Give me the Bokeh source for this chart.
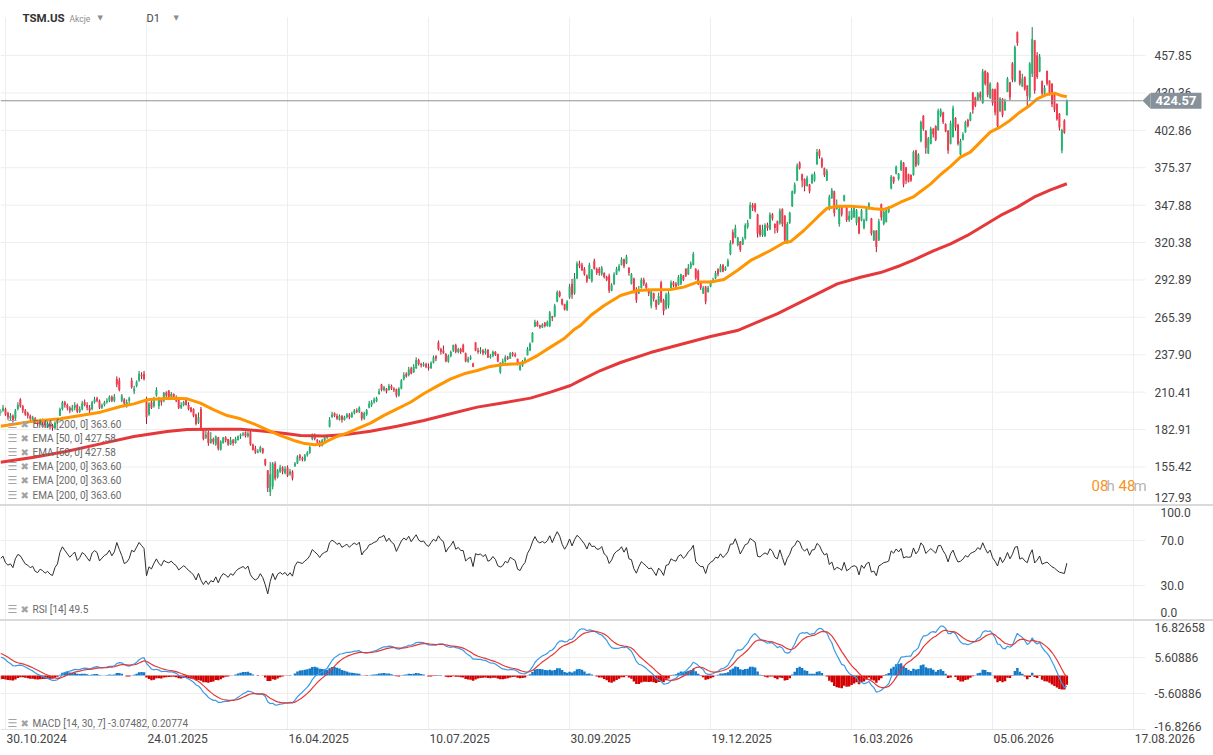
import numpy as np
from bokeh.plotting import figure
from bokeh.layouts import column
from bokeh.models import (Range1d, FixedTicker, Label, Div, NumeralTickFormatter,
                          BoxAnnotation, PolyAnnotation)
from bokeh.embed import file_html
from bokeh.resources import INLINE

# ---------------- data ----------------
FIRST_BAR = -2  # bar index of the first candle; bar 0 = 30.10.2024

OPEN = [
    195, 197, 198, 195, 191, 193, 191, 198, 205, 200,
    197, 195, 193, 190, 191, 189, 187, 190, 188, 185,
    187, 186, 184, 188, 193, 198, 203, 201, 199, 197,
    199, 201, 196, 198, 203, 201, 199, 198, 203, 206,
    204, 199, 201, 203, 204, 207, 204, 220, 219, 204,
    205, 201, 204, 219, 211, 215, 219, 223, 224, 205,
    194, 203, 200, 208, 200, 205, 204, 210, 211.5, 207,
    209, 206, 205, 199, 201, 205, 201, 199, 198, 194,
    188, 198, 183, 177, 181, 173, 176, 172, 177, 168,
    173, 177, 176, 172, 175, 173, 175, 178, 179, 181,
    178, 181, 172, 169, 166, 167, 169, 161, 153, 137,
    141, 158, 148, 152, 155, 151, 155, 150, 152, 156,
    158, 164, 162, 160, 164, 166, 176, 179, 175, 174,
    171, 175, 177, 185, 192, 195, 193, 190, 193, 190,
    192, 194, 192, 195, 197, 196, 195.5, 191, 194, 199,
    201, 203, 204, 209, 216, 212, 213, 212, 215, 213,
    212.5, 208, 213, 220, 224, 223, 228, 225, 228, 234,
    231, 230, 231, 229, 228, 232, 237, 247, 242, 241,
    238.6, 233, 237, 241, 245, 240, 242, 245, 239, 233,
    235, 231.5, 247, 241, 240, 241, 239, 241.5, 236, 237,
    240, 238.5, 225, 232, 233, 236, 235, 239, 238, 234.9,
    226.5, 230, 233, 237.5, 241, 247, 258.5, 262, 259.5, 258,
    261.5, 259, 259, 266, 266, 277, 284, 279, 275.3, 271,
    280, 290, 283, 294, 305, 304, 301, 296, 294, 292,
    307, 301, 301, 297, 298, 295, 296, 285, 290, 297,
    300, 304, 308, 305, 302, 290, 294, 286, 283, 287,
    293, 290, 286, 274, 283, 278, 275, 291, 278, 272,
    274, 287, 291, 290, 289, 290, 296, 301, 297, 302,
    304, 301, 299.5, 291, 283, 288, 284, 288, 291.5, 294,
    300.5, 299, 304, 300, 303, 312, 328, 324, 318.5, 321,
    319, 323.5, 332, 338, 348, 348.5, 341, 333, 326, 325,
    333.5, 330, 341, 334, 336, 334.5, 345, 340, 320.5, 335,
    347, 357, 366, 379, 370.5, 367, 362, 363, 364, 366,
    378, 388, 382, 375, 366, 345, 353, 358, 345, 334,
    347, 351, 346, 337, 338, 339, 335, 339, 336.5, 331,
    336.5, 345, 338, 322, 329, 322, 348.5, 334, 335.5, 343,
    360, 368.5, 371, 367, 373.5, 379, 375.5, 370.5, 370, 370,
    388, 378, 395, 413.5, 402.5, 386, 393, 404, 406, 403,
    414, 416, 407.5, 402.5, 393, 398, 412, 407, 385, 396,
    401.5, 410.5, 410, 430.5, 427, 425, 430, 423, 446.5, 445,
    426.5, 433, 433, 437.5, 417, 426, 417.5, 431, 438, 452,
    439, 475, 446.5, 435, 442, 435.8, 427, 444.5, 469, 458,
    446, 439, 430, 446.5, 439.5, 437, 431, 422.3, 415, 388,
    410, 414,
]

HIGH = [
    198, 201, 199, 196, 195, 194, 198, 203, 206, 201,
    198, 196, 194, 193, 192, 190, 191, 191, 189, 189,
    188, 187, 189, 191, 199, 204, 204, 202, 200, 201,
    203, 202, 200, 204, 205, 203, 201, 204, 207, 207,
    205, 202, 204, 206, 208, 208, 209, 222, 221, 209,
    206, 205, 207, 221, 215, 219, 226, 225, 226, 207,
    203, 204.5, 207, 214, 207, 205.5, 210.5, 211, 212, 210.5,
    209.5, 208, 205.5, 203, 204, 205.5, 203, 199.5, 198.5, 194.5,
    195.5, 199.5, 183.5, 182, 182, 181, 177, 178.5, 177.5, 175,
    177.5, 178, 176, 177.5, 176, 177.5, 178.5, 180, 181, 181.5,
    181.5, 182, 172.5, 171, 168.5, 171, 169.5, 161.5, 153, 159,
    159, 159.5, 154, 157, 156, 156, 156.5, 154, 153, 159,
    164, 165, 163, 165, 167, 171, 180, 180, 176, 175,
    176, 178.5, 179, 192, 196, 195.5, 194.5, 194, 193.5, 193,
    195, 195, 196, 198, 198.5, 200, 196, 196, 198, 204,
    204.5, 206.5, 207, 213, 216.5, 215, 213.5, 216.5, 216, 214,
    213, 214, 220, 225, 225, 229, 229, 231, 236, 235,
    232, 232.5, 232, 231.5, 233, 237.3, 237.5, 248.4, 243, 244.7,
    239, 238, 241, 245.4, 246, 243, 243, 246, 239.5, 236.5,
    237.5, 232, 247, 243, 243.5, 242, 242.5, 242, 238.5, 241,
    240.5, 238.6, 232.4, 235, 237.5, 237, 239.8, 240, 239.5, 235,
    231.2, 234, 236, 243.5, 247, 254.5, 263.6, 263, 260, 261,
    262, 263, 270, 266.5, 275.3, 285.1, 285, 279, 275.3, 278,
    290, 293.7, 298, 306.5, 307, 305.5, 302.3, 297, 305.5, 301,
    308.5, 302, 302.3, 303, 298.5, 296, 297.5, 290.5, 298.5, 302.5,
    304.5, 309.5, 308.5, 311.4, 302, 298, 294.5, 287.5, 288.5, 294.5,
    294.5, 291, 286.5, 285.5, 283.5, 278.5, 283.5, 292.3, 279, 283.5,
    284.5, 292.5, 292, 291.5, 296.5, 297.5, 296.5, 301.5, 304.5, 306.5,
    313.5, 301.5, 300.5, 292, 288.5, 288.5, 288.5, 292.5, 294.5, 299.5,
    301.5, 304.5, 304.5, 303, 308.5, 322, 330, 333.5, 324.5, 321.5,
    324.5, 334.5, 337, 350, 349.5, 349.5, 341.5, 333.5, 333.5, 334.5,
    335, 342.5, 342, 334.5, 336.5, 345.5, 345.5, 340.5, 335.5, 343,
    358.6, 364.5, 378.5, 380, 371, 367.5, 369.5, 363.5, 371, 372.5,
    389.2, 389, 383, 375.5, 374.5, 355.5, 360.5, 358.5, 352, 347,
    347.5, 355.5, 347, 343.5, 346, 346.4, 345, 339.5, 345, 338,
    346.4, 350, 338.5, 329.5, 329.5, 337.8, 349, 344, 344.5, 347,
    370, 369, 377, 371.5, 381, 379.5, 376, 371, 370.5, 388,
    388.5, 386, 410, 414, 403, 398, 405.5, 404.5, 406.5, 418.7,
    419, 416.5, 408, 403, 410, 421, 412.5, 407.6, 396.6, 401.5,
    410, 411.3, 416.2, 431, 427.5, 431, 431.5, 448, 447, 445.6,
    438.2, 433.5, 433.5, 438.2, 427.2, 426.5, 426, 442, 438.5, 453,
    465.2, 475.5, 447, 444.4, 442.5, 436, 453, 478.7, 469, 460.3,
    459, 439.5, 436, 446.8, 439.5, 437.5, 431, 422.5, 415.5, 404,
    411, 425.5,
]

LOW = [
    193, 196, 193, 190, 190, 188, 190, 197, 199, 195,
    193, 191, 189, 189, 187, 185, 186, 186, 184, 184,
    183, 182, 183, 187, 193, 197, 199, 197, 195, 196,
    197, 195, 195, 197, 200, 197, 195, 197, 202, 203,
    198, 198, 200, 202, 203, 203, 203, 214, 211, 203,
    200, 199, 202, 213, 209, 214, 218, 220, 219, 187,
    193, 198, 199, 207, 198, 200.5, 203, 206, 206.5, 206,
    205, 203, 198, 198, 200, 200.5, 197, 195.5, 192, 186,
    187, 182, 175, 176, 171, 172.5, 172, 171, 167.5, 167.5,
    172.5, 173.5, 171, 171.5, 171, 172.5, 175, 176, 178, 177,
    177, 171, 167.5, 165, 165.5, 166, 165, 156, 137, 134,
    139, 145.5, 147, 151, 150, 150, 148, 149, 145.5, 155.5,
    157.5, 160, 159.5, 159.5, 163, 165, 175, 175, 172, 170,
    170.5, 174, 176, 184.5, 191.5, 192, 190, 189.5, 188, 189.5,
    191, 190.5, 191.5, 194, 195, 195, 189.5, 190, 193, 198.5,
    199.5, 202, 203, 208.5, 211, 211, 209.5, 211.5, 212, 210.5,
    206.5, 207, 212.5, 219, 221, 222, 223.5, 224.5, 227.5, 230,
    228.5, 229, 228, 226.3, 227.5, 231.5, 233.2, 241, 238, 238.6,
    232.4, 232, 236, 240, 239, 239, 238.5, 239.5, 232.4, 232,
    234, 228.8, 240.5, 238.6, 238.6, 237.5, 238, 235.5, 235, 236,
    237, 232.4, 223.9, 230.5, 232, 234, 234.9, 236.5, 236, 230,
    226.3, 229, 232.5, 237.4, 240.5, 247, 258.2, 258.5, 257, 257.5,
    258, 258.5, 258.2, 262.6, 265.5, 276.5, 280, 274.1, 270.4, 270,
    279, 279, 282, 293.5, 301.5, 299.5, 296, 290.7, 293.5, 291,
    300.5, 296.5, 296, 296, 294, 292, 283.3, 284.5, 289, 296.5,
    299, 303.5, 301.5, 304.5, 296, 289.5, 283, 276, 282.5, 286.5,
    288.5, 286, 281, 272, 277, 271, 274.5, 276, 267, 271,
    272, 286.5, 287.5, 286, 288.5, 289, 292, 295, 296.5, 301,
    303.5, 293, 289, 285.5, 282.5, 275, 283.5, 287.5, 290.5, 293.5,
    295.5, 298.5, 298.5, 299.5, 302.5, 311, 319, 323.5, 317.5, 313.5,
    318.5, 322.5, 330.5, 337.5, 343.5, 342.5, 324, 324.5, 324.5, 324.5,
    329, 329.5, 336.5, 327, 327.5, 333.5, 332, 319.5, 319.5, 334,
    346.5, 356, 365.5, 374, 361, 358, 361.5, 356.5, 363.5, 365,
    377.5, 382, 375, 368.5, 365.5, 344, 352.5, 339.5, 344.5, 332,
    339.5, 350.5, 335.5, 335.5, 337, 338.5, 333, 326.5, 336, 330,
    336, 344.5, 325.5, 321.5, 313.3, 321.5, 336.5, 333, 335, 342,
    359.5, 363.5, 370.5, 366, 373, 361, 363.5, 364.5, 365, 369.5,
    375.8, 377, 394, 402.5, 385.6, 385.5, 392.5, 397.5, 395, 402.5,
    412.5, 407.5, 401.5, 385.6, 392.5, 397.5, 402.5, 391.7, 384.4, 395.4,
    401, 405, 409.5, 415, 419.9, 424.5, 425, 422.3, 435.8, 427.2,
    426, 421, 413.8, 405.2, 416.2, 412.5, 417.4, 430.9, 424.8, 438.2,
    438.2, 465, 435.8, 434.6, 432, 419.9, 424.8, 442, 429.7, 440.7,
    445.6, 428.5, 428, 435.8, 428.5, 419.9, 416.2, 410, 402.7, 386,
    400.3, 413.8,
]

CLOSE = [
    197, 199, 194, 192, 193, 190, 197, 201, 200, 197,
    194, 193, 191, 192, 188, 187, 189, 188, 186, 187,
    185, 184, 188, 190, 198, 203, 201, 199, 197, 199,
    201, 196, 198, 202, 201, 199, 197, 203, 205, 204,
    199, 201, 203, 204, 207, 204, 207, 216, 212, 208,
    202, 203, 206, 214, 213, 218, 224, 222, 220, 192,
    202, 199, 206, 212, 206, 203, 210, 208, 207, 209,
    206, 204, 199, 201, 203, 201, 198, 196, 193, 187,
    192, 183, 176, 179, 173, 176, 174, 178, 169, 174,
    177, 175, 172, 175, 173, 176, 178, 179, 180, 178,
    180, 172, 168, 166, 167, 170, 166, 157, 140, 150,
    158, 147, 153, 155, 152, 154, 149, 152, 147, 158,
    163, 162, 161, 164, 166, 170, 178, 176, 174, 171,
    175, 177, 178, 190, 194, 193, 191, 193, 190, 192,
    194, 192, 195, 197, 196, 199, 191, 195, 197, 202,
    203, 205, 206, 211, 212, 214, 211, 215, 213, 212,
    208, 213, 219, 223, 222, 227, 224, 229, 234, 231,
    230, 231, 229, 228, 232, 236, 235, 242, 240, 239,
    233, 237, 240, 245, 240, 242, 240, 240, 233, 235,
    236, 229, 241, 240, 241, 239, 241, 236, 237, 240,
    238, 233, 232, 233, 236, 235, 239, 238, 237, 231,
    230, 233, 235, 242, 246, 254, 262, 259, 258, 260,
    259, 262, 269, 265, 274, 284, 281, 275, 271, 277,
    288, 282, 294, 305, 303, 300, 297, 292, 304, 300,
    301, 298, 298, 302, 295, 293, 285, 289, 297, 301,
    303, 308, 303, 310, 298, 297, 285, 278, 286, 293,
    290, 287, 283, 284, 279, 273, 281, 277, 270, 282,
    283, 291, 289, 288, 295, 297, 293, 296, 302, 305,
    312, 294, 290, 287, 287, 277, 287, 291, 293, 298,
    297, 303, 299, 302, 307, 320, 320, 331, 324, 315,
    323, 333, 335, 348, 346, 344, 327, 326, 330, 333,
    331, 341, 338, 331, 329, 344, 334, 322, 334, 342,
    358, 363, 377, 375, 366, 362, 368, 358, 370, 371,
    387, 384, 376, 370, 373, 354, 359, 342, 347, 345,
    341, 355, 337, 340, 344, 346, 344, 327, 344, 337,
    346, 349, 327, 329, 317, 336, 339, 343, 344, 346,
    369, 365, 376, 371, 380, 363, 366, 365, 366, 387,
    377, 385, 409, 404, 390, 397, 404, 400, 396, 417,
    418, 409, 402, 388, 408, 419, 405, 393, 395, 400,
    409, 406, 415, 418, 421, 430, 427, 446, 437, 429,
    437, 423, 416, 406, 426, 414, 424, 441, 427, 440,
    464, 467, 437, 441, 433, 428, 452, 470, 432, 442,
    457, 430, 434, 437, 430, 422, 418, 411, 405, 403,
    401, 424.57,
]

EMA50_X = [-2, 11.5, 22.2, 30.3, 38.4, 46.5, 51.9, 57.3, 62.7, 68, 73.4, 78.8, 84.2, 89.6, 95,
           100.4, 105.8, 111.2, 116.5, 121, 125, 128, 130, 134, 138, 142, 147.5, 153, 158.3,
           163.7, 169, 174.5, 180, 185.3, 190.7, 196, 201.4, 206.8, 209.5, 215, 220.3, 225.7,
           229.7, 232.4, 236.5, 242, 248.6, 255.3, 262, 268.8, 274.2, 279.6, 285, 290.4, 295.8,
           301.2, 309.2, 314.6, 317.3, 322.7, 328.1, 332.1, 336.2, 341.6, 347, 351, 355, 357.8,
           361.8, 367.2, 370, 374, 378, 382, 386, 390, 394, 398, 402, 406, 410, 414, 417, 421,
           424, 426.5, 429]
EMA50_V = [185.4, 189.1, 190.8, 193.2, 195.7, 199.9, 201.8, 204.8, 205.5, 206.0, 205.5, 202.3,
           197.4, 193.2, 190.8, 187.1, 182.7, 178.5, 174.9, 172.6, 171.7, 172.4, 174.4, 177.8,
           180.3, 183.4, 187.6, 193.3, 198.1, 203.0, 209.2, 214.8, 220.2, 223.9, 226.3, 229.3,
           230.7, 231.2, 232.0, 237.3, 243.5, 249.6, 256.2, 259.4, 266.7, 274.1, 281.4, 285.1,
           285.6, 285.9, 287.6, 291.3, 291.3, 293.2, 299.8, 307.2, 314.5, 320.2, 321.1, 329.2,
           338.8, 345.6, 347.1, 347.1, 346.4, 345.2, 344.7, 346.4, 350.0, 354.2, 358.1, 363.5,
           370.4, 376.3, 383.1, 386.8, 394.2, 401.5, 405.2, 410.1, 416.2, 421.1, 426.0, 429.2,
           430.2, 428.5, 427.58]

EMA200_X = [-2, 11.5, 24.9, 38.4, 51.9, 65.3, 73.4, 84.2, 95, 105.8, 113.9, 119.2, 128.7, 136.8,
            147.5, 158.3, 169.1, 179.9, 190.7, 201.4, 212.2, 220.3, 228.4, 232.4, 240.5, 248.6,
            260.7, 272.8, 285, 295.8, 303.9, 311.9, 320, 328.1, 336.2, 345.6, 353.7, 361.8,
            367.2, 375.3, 382, 388.8, 395.5, 402.2, 409, 415.7, 422.4, 429]
EMA200_V = [158.9, 162.6, 167.0, 172.4, 177.8, 181.5, 183.0, 183.2, 183.2, 181.5, 179.8, 178.5,
            178.1, 179.0, 181.7, 185.4, 189.6, 194.5, 199.4, 202.6, 206.0, 210.4, 215.3, 219.0,
            226.3, 232.2, 239.5, 245.4, 251.3, 255.7, 261.8, 268.0, 275.3, 282.7, 290.0, 294.9,
            298.3, 303.5, 307.7, 314.5, 319.4, 325.6, 332.9, 340.3, 346.4, 353.7, 359.1, 363.6]

DATE_TICKS = [0, 57, 114, 171, 228, 285, 342, 399, 456]
DATE_LABELS = ["30.10.2024", "24.01.2025", "16.04.2025", "10.07.2025", "30.09.2025",
               "19.12.2025", "16.03.2026", "05.06.2026", "17.08.2026"]

PRICE_LEVELS = [127.93, 155.42, 182.91, 210.41, 237.90, 265.39, 292.89, 320.38, 347.88,
                375.37, 402.86, 430.36, 457.85]
RSI_LEVELS = [0.0, 30.0, 70.0, 100.0]
MACD_LEVELS = [-16.8266, -5.60886, 5.60886, 16.82658]
MACD_LABELS = ["-16.8266", "-5.60886", "5.60886", "16.82658"]

LAST_PRICE = 424.57
EMA50_LAST = 427.58
EMA200_LAST = 363.60
RSI_LAST = 49.5
MACD_LAST = -3.07482
SIGNAL_LAST = 0.20774

# indicator state at the left edge
RSI_SEED_GAIN, RSI_SEED_LOSS = 2.0, 1.7
MACD_SEED_FAST, MACD_SEED_SLOW, MACD_SEED_SIGNAL = 197.5, 191.3, 7.3

# ---------------- layout constants ----------------
FONT = "Roboto"
FRAME_W = 1145
PX_PER_BAR = 2.474
X_LEFT = -2.02
X_RIGHT = X_LEFT + FRAME_W / PX_PER_BAR
XR = Range1d(X_LEFT, X_RIGHT)
XR_FULL = Range1d(X_LEFT, X_LEFT + 1213 / PX_PER_BAR)

P_Y17, P_BOT = 485.78, 127.82          # price values at canvas y 17 and 504
PX_PER_PRICE = (504 - 17) / (P_Y17 - P_BOT)
P_TOP = P_Y17 + 17 / PX_PER_PRICE     # canvas y 0

MACD_PX = 108 / 33.6532
MACD_BOTTOM = -16.8266 - 26 / MACD_PX  # frame includes the date strip

GREEN_BODY, GREEN_WICK = "#22b573", "#187a4b"
RED_BODY, RED_WICK = "#f23a4c", "#a8182d"
GRID = "#eeeeee"
AXIS_TXT = "#444444"
LEGEND_SIZE = "10px"


def price_at(yc):
    return P_Y17 - (yc - 17) / PX_PER_PRICE


def rsi_at(yc):
    return 100 - (yc - 506) / 1.13


def macd_at(yc):
    return 16.8266 - (yc - 621) / MACD_PX


o = np.array(OPEN, float)
h = np.array(HIGH, float)
l = np.array(LOW, float)
c = np.array(CLOSE, float)
n = len(c)
x = np.arange(n) + FIRST_BAR
up = c >= o
btop = np.maximum(o, c)
bbot = np.minimum(o, c)
thin = (btop - bbot) < 0.5
mid = (btop + bbot) / 2
btop = np.where(thin, mid + 0.3, btop)
bbot = np.where(thin, mid - 0.3, bbot)
whi = np.maximum(h, btop)
wlo = np.minimum(l, bbot)

# RSI (Wilder, 14)
deltas = np.diff(c, prepend=c[0])
ag, al = RSI_SEED_GAIN, RSI_SEED_LOSS
rsi = []
for d in deltas:
    ag = (ag * 13 + max(d, 0)) / 14
    al = (al * 13 + max(-d, 0)) / 14
    rsi.append(100 - 100 / (1 + ag / al))
rsi = np.array(rsi)

# MACD (14, 30, 7)
ef, es, sg = MACD_SEED_FAST, MACD_SEED_SLOW, MACD_SEED_SIGNAL
macd, sig = [], []
for v in c:
    ef += 2 / 15 * (v - ef)
    es += 2 / 31 * (v - es)
    mm = ef - es
    sg += 2 / 8 * (mm - sg)
    macd.append(mm)
    sig.append(sg)
macd = np.array(macd)
sig = np.array(sig)
hist = macd - sig


def style_fig(f):
    f.outline_line_color = None
    f.background_fill_color = "white"
    f.border_fill_color = "white"
    f.grid.grid_line_color = GRID
    f.grid.grid_line_width = 1


def style_yaxis(f):
    ya = f.yaxis[0]
    ya.axis_line_color = None
    ya.major_tick_line_color = None
    ya.minor_tick_line_color = None
    ya.major_label_standoff = 9
    ya.major_label_text_font = FONT
    ya.major_label_text_font_size = "12px"
    ya.major_label_text_color = AXIS_TXT


def add_label(f, xs, yv, text, size="11px", color="#707070", style="normal",
              font=FONT, align="left", x_units="screen", x_offset=0):
    f.add_layout(Label(x=xs, y=yv, x_units=x_units, x_offset=x_offset, text=text,
                       text_font=font, text_font_size=size, text_color=color,
                       text_font_style=style, text_align=align, text_baseline="middle"))


def legend_row(f, yv, text):
    add_label(f, 7, yv, "\u2630", size="11px", color="#a3a3a3", font="DejaVu Sans")
    add_label(f, 20, yv, "\u2716", size="10px", color="#a3a3a3", font="DejaVu Sans")
    add_label(f, 32, yv, text, size=LEGEND_SIZE, color="#6a6a6a")


def full_fig(frame_h, yr):
    f = figure(frame_width=1213, frame_height=frame_h, x_range=XR_FULL, y_range=yr,
               output_backend="svg", toolbar_location=None, x_axis_location=None,
               y_axis_location=None, min_border_left=0, min_border_right=0,
               min_border_top=0, min_border_bottom=0)
    style_fig(f)
    return f


# ---------------- price panel (frame covers the full width, own value labels) ----------------
p = full_fig(504, Range1d(P_BOT, P_TOP))
p.xgrid.ticker = FixedTicker(ticks=DATE_TICKS)
p.ygrid.visible = False
p.segment(x0=[X_LEFT] * 12, x1=[X_RIGHT] * 12, y0=PRICE_LEVELS[1:], y1=PRICE_LEVELS[1:],
          line_color=GRID, line_width=1)
p.add_layout(BoxAnnotation(top=P_TOP + 10, bottom=price_at(17), fill_color="white",
                           fill_alpha=1, line_color=None, level="underlay"))

p.segment(x0=x, y0=wlo, x1=x, y1=whi, line_width=1,
          line_color=[GREEN_WICK if u else RED_WICK for u in up])
p.vbar(x=x, top=btop, bottom=bbot, width=0.8, line_color=None,
       fill_color=[GREEN_BODY if u else RED_BODY for u in up])
p.line(EMA200_X, EMA200_V, line_color="#e5383b", line_width=3, line_join="round")
p.line(EMA50_X, EMA50_V, line_color="#ff9500", line_width=3, line_join="round")
p.segment(x0=[X_LEFT], x1=[X_LEFT + 1142 / PX_PER_BAR], y0=[LAST_PRICE], y1=[LAST_PRICE],
          line_color="#8a9499", line_width=1)

for k, lev in enumerate(PRICE_LEVELS):
    yv = price_at(496.5) if k == 0 else lev
    add_label(p, 1154, yv, f"{lev:.2f}", size="12px", color=AXIS_TXT)

p.add_layout(PolyAnnotation(xs=[1142, 1150, 1150], xs_units="screen",
                            ys=[LAST_PRICE, LAST_PRICE + 5.9, LAST_PRICE - 5.9], ys_units="data",
                            fill_color="#87919a", fill_alpha=1, line_color=None))
p.add_layout(BoxAnnotation(left=1150, right=1201, left_units="screen", right_units="screen",
                           top=LAST_PRICE + 5.9, bottom=LAST_PRICE - 5.9,
                           fill_color="#87919a", fill_alpha=1, line_color=None))
add_label(p, 1175.5, LAST_PRICE, f"{LAST_PRICE:.2f}", size="13px", color="white",
          style="bold", align="center")

add_label(p, 22, price_at(17.5), "TSM.US", size="11.5px", color="#333333", style="bold")
add_label(p, 69, price_at(18), "Akcje", size="8.5px", color="#8c8c8c")
add_label(p, 97, price_at(17), "\u25bc", size="7px", color="#8c8c8c", font="DejaVu Sans")
add_label(p, 146, price_at(17.5), "D1", size="11px", color="#444444")
add_label(p, 173, price_at(17), "\u25bc", size="7px", color="#8c8c8c", font="DejaVu Sans")

rows = [f"EMA [200, 0] {EMA200_LAST:.2f}", f"EMA [50, 0] {EMA50_LAST:.2f}",
        f"EMA [50, 0] {EMA50_LAST:.2f}", f"EMA [200, 0] {EMA200_LAST:.2f}",
        f"EMA [200, 0] {EMA200_LAST:.2f}", f"EMA [200, 0] {EMA200_LAST:.2f}"]
for k, t in enumerate(rows):
    legend_row(p, price_at(424 + k * 14.1), t)

for xs, t, col in [(1091, "08", "#f7931e"), (1106, "h", "#b5b5b5"),
                   (1118, "48", "#f7931e"), (1133, "m", "#b5b5b5")]:
    add_label(p, xs, price_at(485), t, size="15px", color=col)

# ---------------- RSI panel ----------------
r = figure(frame_width=FRAME_W, frame_height=113, x_range=XR, y_range=Range1d(0, 100),
           output_backend="svg", toolbar_location=None, x_axis_location=None,
           y_axis_location="right", min_border_left=0, min_border_right=68,
           min_border_top=0, min_border_bottom=0)
style_fig(r)
style_yaxis(r)
r.xgrid.ticker = FixedTicker(ticks=DATE_TICKS)
r.ygrid.ticker = FixedTicker(ticks=[30, 70])
rt_top, rt_bot = rsi_at(512), rsi_at(612)
r.yaxis[0].ticker = FixedTicker(ticks=[rt_bot, 30, 70, rt_top])
r.yaxis[0].formatter = NumeralTickFormatter(format="0.0")
r.yaxis[0].major_label_overrides = {rt_bot: f"{RSI_LEVELS[0]:.1f}", rt_top: f"{RSI_LEVELS[3]:.1f}"}
r.line(x, rsi, line_color="#2e2e2e", line_width=1)
legend_row(r, rsi_at(609), f"RSI [14] {RSI_LAST}")

# ---------------- MACD panel (full width; frame includes the date strip) ----------------
m = full_fig(134, Range1d(MACD_BOTTOM, 16.8266))
m.xgrid.visible = False
m.ygrid.visible = False
m.segment(x0=[X_LEFT] * 2, x1=[X_RIGHT] * 2, y0=[-5.60886, 5.60886], y1=[-5.60886, 5.60886],
          line_color=GRID, line_width=1)
m.segment(x0=DATE_TICKS, x1=DATE_TICKS, y0=[-16.8266] * 9, y1=[16.8266] * 9,
          line_color=GRID, line_width=1)
m.segment(x0=[X_LEFT], x1=[X_RIGHT], y0=[-16.8266], y1=[-16.8266],
          line_color="#e3e3e3", line_width=1)
m.vbar(x=x, top=np.maximum(hist, 0), bottom=np.minimum(hist, 0), width=1.0, line_color=None,
       fill_color=["#1278c8" if v >= 0 else "#d20000" for v in hist])
m.line(x, macd, line_color="#3a9ae6", line_width=1.2)
m.line(x, sig, line_color="#e53935", line_width=1.2)
legend_row(m, macd_at(722.5), f"MACD [14, 30, 7] {MACD_LAST}, {SIGNAL_LAST}")
for yc, s in zip([726, 693, 657, 627], MACD_LABELS):
    add_label(m, 1154, macd_at(yc), s, size="12px", color=AXIS_TXT)
for t, s in zip(DATE_TICKS, DATE_LABELS):
    add_label(m, t, macd_at(737.5), s, size="12px", color=AXIS_TXT, x_units="data",
              x_offset=1)


def sep():
    return Div(text='<div style="margin-left:608px;width:10px;height:2px;'
                    'background-color:#707070"></div>',
               width=1213, height=2, margin=(0, 0, 0, 0),
               styles={"background-color": "#dadada"})


layout = column(p, sep(), r, sep(), m, spacing=0)
open("out.html", "w").write(file_html(layout, INLINE, title="TSM.US"))
